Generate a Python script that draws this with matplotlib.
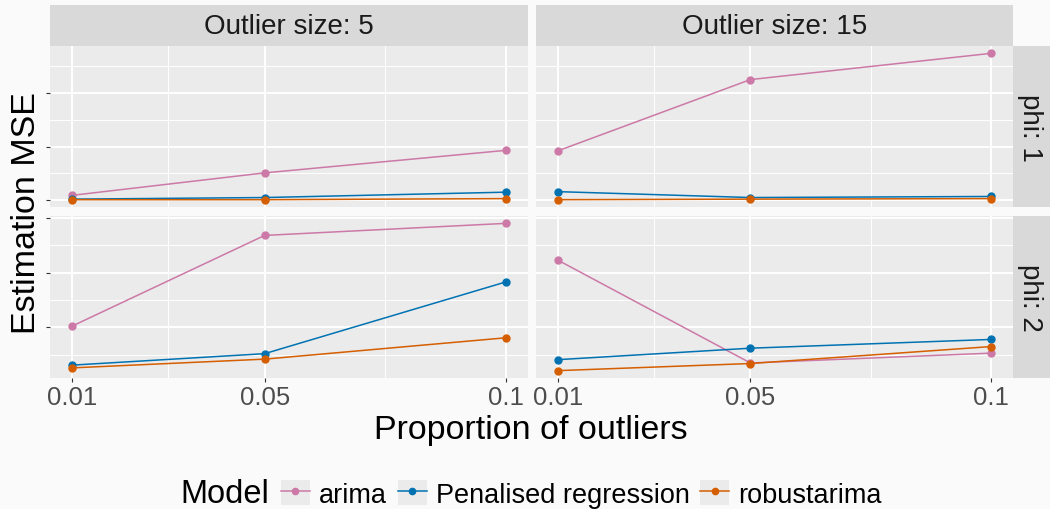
#!/usr/bin/env python3
# -*- coding: utf-8 -*-
"""Estimation MSE by proportion of outliers, faceted by phi and outlier size."""

import matplotlib
matplotlib.use("Agg")
import matplotlib.pyplot as plt
from matplotlib.legend_handler import HandlerLine2D
from matplotlib.lines import Line2D
from matplotlib.patches import Rectangle


proportions = [0.01, 0.05, 0.1]
prop_labels = ["0.01", "0.05", "0.1"]
outlier_sizes = [5, 15]
phis = [1, 2]
models = ["arima", "Penalised regression", "robustarima"]
model_colors = ["#CC79A7", "#0072B2", "#D55E00"]

# phi: 1
arima_phi1_s5 = [0.09, 0.51, 0.93]
penal_phi1_s5 = [0.02, 0.05, 0.15]
robust_phi1_s5 = [0.01, 0.01, 0.03]
arima_phi1_s15 = [0.92, 2.25, 2.74]
penal_phi1_s15 = [0.16, 0.05, 0.07]
robust_phi1_s15 = [0.01, 0.02, 0.03]

# phi: 2
arima_phi2_s5 = [1.02, 2.68, 2.90]
penal_phi2_s5 = [0.31, 0.52, 1.83]
robust_phi2_s5 = [0.26, 0.42, 0.81]
arima_phi2_s15 = [2.23, 0.35, 0.53]
penal_phi2_s15 = [0.41, 0.62, 0.78]
robust_phi2_s15 = [0.21, 0.34, 0.65]

panel_data = {
    (1, 5): [arima_phi1_s5, penal_phi1_s5, robust_phi1_s5],
    (1, 15): [arima_phi1_s15, penal_phi1_s15, robust_phi1_s15],
    (2, 5): [arima_phi2_s5, penal_phi2_s5, robust_phi2_s5],
    (2, 15): [arima_phi2_s15, penal_phi2_s15, robust_phi2_s15],
}

row_major = {1: [0, 1, 2], 2: [1, 2, 3]}
row_minor = {1: [0.5, 1.5, 2.5], 2: [0.5, 1.5, 2.5]}

W, H = 1050, 510
BG = "#FAFAFA"
PANEL_BG = "#EBEBEB"
STRIP_BG = "#D9D9D9"
KEY_BG = "#EBEBEB"

plt.rcParams["font.family"] = ["Liberation Sans", "DejaVu Sans"]


def px_axes(fig, x0, y0, x1, y1):
    """Add axes from pixel box (top-left origin)."""
    return fig.add_axes([x0 / W, 1 - y1 / H, (x1 - x0) / W, (y1 - y0) / H])


class KeyHandler(HandlerLine2D):
    def create_artists(self, legend, orig_handle, xdescent, ydescent,
                       width, height, fontsize, trans):
        bg = Rectangle((-xdescent, -ydescent), width, height,
                       facecolor=KEY_BG, edgecolor="none", transform=trans)
        arts = super().create_artists(legend, orig_handle, xdescent, ydescent,
                                      width, height, fontsize, trans)
        return [bg, *arts]


def main() -> None:
    fig = plt.figure(figsize=(W / 100, H / 100), dpi=100, facecolor=BG)

    col_x = [(50, 527.5), (536, 1013)]
    row_y = [(47, 208), (217, 379)]

    for r, phi in enumerate(phis):
        share = None
        for c, size in enumerate(outlier_sizes):
            x0, x1 = col_x[c]
            y0, y1 = row_y[r]
            ax = px_axes(fig, x0, y0, x1, y1)
            if share is not None:
                ax.sharey(share)
            share = share or ax
            ax.set_facecolor(PANEL_BG)
            for series, color in zip(panel_data[(phi, size)], model_colors):
                ax.plot(proportions, series, color=color, lw=1.1,
                        marker="o", ms=5, zorder=3)
            ax.set_xticks(proportions)
            ax.set_xticks([0.03, 0.075], minor=True)
            ax.set_yticks(row_major[phi])
            ax.set_yticks(row_minor[phi], minor=True)
            ax.grid(True, which="major", color="white", lw=1.4)
            ax.grid(True, which="minor", color="white", lw=0.7)
            ax.set_axisbelow(True)
            for sp in ax.spines.values():
                sp.set_visible(False)
            ax.tick_params(which="minor", length=0)
            ax.tick_params(which="major", length=2.75, width=0.8,
                           color="#333333", labelsize=18.5,
                           labelcolor="#4D4D4D", pad=2.5)
            ax.set_yticklabels([])
            if c == 1:
                ax.tick_params(axis="y", length=0)
            if r == 0:
                ax.tick_params(axis="x", length=0)
                ax.set_xticklabels([])
            else:
                ax.set_xticklabels(prop_labels)

            if r == 0:
                st = px_axes(fig, x0, 6, x1, 47)
                st.set_facecolor(STRIP_BG)
                st.set_xticks([])
                st.set_yticks([])
                for sp in st.spines.values():
                    sp.set_visible(False)
                st.text(0.5, 0.5, f"Outlier size: {size}", ha="center",
                        va="center", fontsize=20, color="#1A1A1A",
                        transform=st.transAxes)

        y0, y1 = row_y[r]
        st = px_axes(fig, 1013, y0, 1050, y1)
        st.set_facecolor(STRIP_BG)
        st.set_xticks([])
        st.set_yticks([])
        for sp in st.spines.values():
            sp.set_visible(False)
        st.text(0.45, 0.5, f"phi: {phi}", ha="center", va="center",
                rotation=-90, fontsize=20, color="#1A1A1A",
                transform=st.transAxes)

    fig.text(27 / W, 1 - 213 / H, "Estimation MSE", rotation=90,
             ha="center", va="center", fontsize=24.5, color="black")
    fig.text(531 / W, 1 - 431 / H, "Proportion of outliers",
             ha="center", va="center", fontsize=24.5, color="black")

    fig.text(180 / W, 1 - 495 / H, "Model", ha="left", va="center",
             fontsize=23.5, color="black")
    handles = [Line2D([], [], color=col, lw=1.1, marker="o", ms=4.5)
               for col in model_colors]
    fig.legend(handles, models, loc="center left",
               bbox_to_anchor=(281 / W, 1 - 495 / H), ncol=3,
               frameon=False, fontsize=19.5, borderpad=0, borderaxespad=0,
               handlelength=1.07, handleheight=1.07, handletextpad=0.33,
               columnspacing=0.4, numpoints=1,
               handler_map={Line2D: KeyHandler(numpoints=1)})

    fig.savefig("out.png", dpi=100, facecolor=BG)


if __name__ == "__main__":
    main()
